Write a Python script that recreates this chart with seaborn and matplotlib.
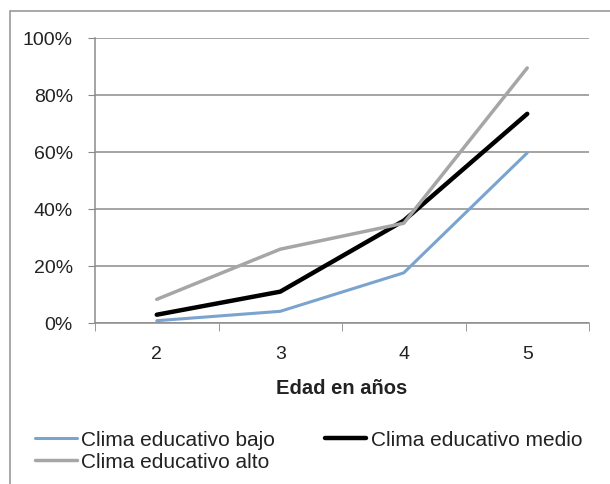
import pandas as pd
import matplotlib.pyplot as plt
import numpy as np
import seaborn as sns
from matplotlib.patches import Rectangle

edad = [2, 3, 4, 5]
bajo = [0.8, 4.1, 17.6, 59.7]
medio = [2.9, 11.0, 35.9, 73.4]
alto = [8.3, 25.9, 35.0, 89.5]
series = ["Clima educativo bajo", "Clima educativo medio", "Clima educativo alto"]
colores = ["#7ba3cf", "#000000", "#a6a6a6"]
anchos = [2.2, 3.2, 2.5]

df = pd.DataFrame({
    "edad": edad * 3,
    "valor": bajo + medio + alto,
    "serie": [series[0]] * 4 + [series[1]] * 4 + [series[2]] * 4,
})

sns.set_style("white")
plt.rcParams["font.family"] = ["Liberation Sans", "DejaVu Sans"]

fig = plt.figure(figsize=(6.1, 4.85), dpi=100)
ax = fig.add_axes([95 / 610, 1 - 324 / 485, (589 - 95) / 610, (324 - 39) / 485])

# borde exterior del grafico
fig.patches.append(Rectangle((10 / 610, -0.1), 1.0, 1.1 - 12 / 485, transform=fig.transFigure,
                             fill=False, edgecolor="#9a9a9a", linewidth=1.2))

sns.lineplot(data=df, x="edad", y="valor", hue="serie", palette=colores, ax=ax,
             legend=False, sort=False)
for line, w in zip(ax.lines, anchos):
    line.set_linewidth(w)

ax.set_xlim(1.5, 5.5)
ax.set_ylim(0, 100)
ax.set_yticks(np.arange(0, 101, 20))
ax.set_yticklabels([f"{v}%" for v in range(0, 101, 20)], fontsize=14, color="#222222")
ax.set_xticks(edad)
ax.set_xticklabels([str(e) for e in edad], fontsize=14, color="#222222")
ax.set_xticks(np.arange(1.5, 5.6, 1), minor=True)
ax.tick_params(axis="x", which="major", length=0, pad=15.5)
ax.tick_params(axis="x", which="minor", length=6, color="#888888", direction="out", bottom=True)
ax.tick_params(axis="y", length=5, color="#888888", direction="out", left=True, pad=11)
ax.yaxis.grid(True, color="#8c8c8c", linewidth=1.1)
ax.set_axisbelow(True)
for s in ["top", "right"]:
    ax.spines[s].set_visible(False)
for s in ["left", "bottom"]:
    ax.spines[s].set_color("#8c8c8c")
    ax.spines[s].set_linewidth(1.1)

ax.set_xlabel("Edad en años", fontsize=14.5, fontweight="bold", color="#222222", labelpad=12)
ax.set_ylabel("")

# orden por columnas: bajo, alto | medio
orden = [0, 2, 1]
handles = [plt.Line2D([], [], color=colores[i], linewidth=anchos[i]) for i in orden]
fig.legend(handles, [series[i] for i in orden], loc="upper left",
           bbox_to_anchor=(35 / 610, 1 - 431 / 485),
           ncol=2, frameon=False, fontsize=15, handlelength=2.0, handletextpad=0.2,
           columnspacing=2.4, labelspacing=0.15, borderaxespad=0, borderpad=0,
           labelcolor="#222222")

fig.savefig("out.png", dpi=100)
